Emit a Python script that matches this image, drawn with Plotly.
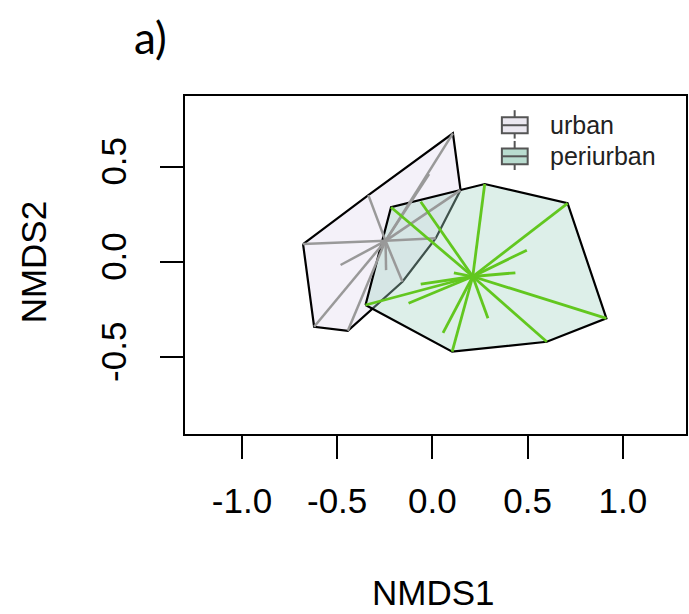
import plotly.graph_objects as go

# ---- data (NMDS site scores) ----
urban_x = [0.108, 0.148, -0.017, -0.336, -0.679, 0.018, -0.482, -0.243, -0.157, -0.621, -0.444]
urban_y = [0.674, 0.376, 0.460, 0.350, 0.093, 0.124, -0.017, -0.044, -0.105, -0.341, -0.362]

peri_x = [-0.217, 0.275, 0.710, 0.914, 0.601, 0.104, -0.351, -0.061, 0.496, 0.436, 0.113, -0.061, -0.125, 0.056, 0.292]
peri_y = [0.286, 0.408, 0.307, -0.297, -0.420, -0.472, -0.227, 0.315, 0.061, -0.058, -0.058, -0.117, -0.218, -0.373, -0.297]

groups = ["urban", "periurban"]
x_ticks = [-1.0, -0.5, 0.0, 0.5, 1.0]
y_ticks = [-0.5, 0.0, 0.5]
x_tick_labels = ["-1.0", "-0.5", "0.0", "0.5", "1.0"]
y_tick_labels = ["-0.5", "0.0", "0.5"]


def convex_hull(xs, ys):
    pts = sorted(set(zip(xs, ys)))
    def cross(o, a, b):
        return (a[0] - o[0]) * (b[1] - o[1]) - (a[1] - o[1]) * (b[0] - o[0])
    lower, upper = [], []
    for p in pts:
        while len(lower) >= 2 and cross(lower[-2], lower[-1], p) <= 0:
            lower.pop()
        lower.append(p)
    for p in reversed(pts):
        while len(upper) >= 2 and cross(upper[-2], upper[-1], p) <= 0:
            upper.pop()
        upper.append(p)
    hull = lower[:-1] + upper[:-1]
    hull.append(hull[0])
    return [p[0] for p in hull], [p[1] for p in hull]


def spider(xs, ys):
    cx = sum(xs) / len(xs)
    cy = sum(ys) / len(ys)
    sx, sy = [], []
    for x, y in zip(xs, ys):
        sx += [cx, x, None]
        sy += [cy, y, None]
    return sx, sy


FONT = "Liberation Sans, Arial, Helvetica, sans-serif"

fig = go.Figure()

uhx, uhy = convex_hull(urban_x, urban_y)
phx, phy = convex_hull(peri_x, peri_y)

fig.add_trace(go.Scatter(x=uhx, y=uhy, mode="lines", fill="toself",
                         fillcolor="rgba(228,222,240,0.42)",
                         line=dict(color="black", width=2.2), showlegend=False, hoverinfo="skip"))
fig.add_trace(go.Scatter(x=phx, y=phy, mode="lines", fill="toself",
                         fillcolor="rgba(165,212,196,0.38)",
                         line=dict(color="black", width=2.2), showlegend=False, hoverinfo="skip"))

usx, usy = spider(urban_x, urban_y)
psx, psy = spider(peri_x, peri_y)
fig.add_trace(go.Scatter(x=usx, y=usy, mode="lines",
                         line=dict(color="#999999", width=2.5), showlegend=False, hoverinfo="skip"))
fig.add_trace(go.Scatter(x=psx, y=psy, mode="lines",
                         line=dict(color="#62c71f", width=2.8), showlegend=False, hoverinfo="skip"))

axis_common = dict(showline=True, mirror=True, linecolor="black", linewidth=1.6,
                   ticks="outside", ticklen=23, tickwidth=1.6, tickcolor="black",
                   showgrid=False, zeroline=False,
                   tickfont=dict(family=FONT, size=35, color="black"))

fig.update_xaxes(range=[-1.299, 1.332], tickvals=x_ticks, ticktext=x_tick_labels,
                 ticklabelstandoff=12, **axis_common)
fig.update_yaxes(range=[-0.904, 0.870], tickvals=y_ticks, ticktext=y_tick_labels,
                 tickangle=-90, ticklabelstandoff=20, **axis_common)

# axis titles and panel label
fig.add_annotation(text="NMDS1", xref="paper", yref="paper", x=0.497, y=-0.470,
                   showarrow=False, xanchor="center", yanchor="middle",
                   font=dict(family=FONT, size=35, color="black"))
fig.add_annotation(text="NMDS2", xref="paper", yref="paper", x=-0.3006, y=0.509,
                   showarrow=False, xanchor="center", yanchor="middle", textangle=-90,
                   font=dict(family=FONT, size=35, color="black"))
fig.add_annotation(text="a)", xref="paper", yref="paper", x=-0.0685, y=1.1746,
                   showarrow=False, xanchor="center", yanchor="middle",
                   font=dict(family="Lato, Open Sans, sans-serif", size=44, color="black"))

# legend (boxplot-style keys as in the R figure)
legend_fill = ["#ebe8f0", "#b9dccf"]
rows = [  # (rect y0, rect y1, mid, whisker top, whisker bottom, text y)
    (0.890, 0.937, 0.9135, 0.958, 0.874, 0.914),
    (0.798, 0.845, 0.8216, 0.867, 0.781, 0.8225),
]
for g, col, r in zip(groups, legend_fill, rows):
    y0, y1, ym, wt, wb, ty = r
    fig.add_shape(type="rect", xref="paper", yref="paper", x0=0.6325, x1=0.684, y0=y0, y1=y1,
                  fillcolor=col, line=dict(color="#555555", width=2))
    fig.add_shape(type="line", xref="paper", yref="paper", x0=0.6325, x1=0.684, y0=ym, y1=ym,
                  line=dict(color="#555555", width=2))
    fig.add_shape(type="line", xref="paper", yref="paper", x0=0.658, x1=0.658, y0=y1, y1=wt,
                  line=dict(color="#555555", width=2))
    fig.add_shape(type="line", xref="paper", yref="paper", x0=0.658, x1=0.658, y0=y0, y1=wb,
                  line=dict(color="#555555", width=2))
    fig.add_annotation(text=g, xref="paper", yref="paper", x=0.725, y=ty, showarrow=False,
                       xanchor="left", yanchor="middle",
                       font=dict(family=FONT, size=25, color="#222222"))

fig.update_layout(width=689, height=614, plot_bgcolor="white", paper_bgcolor="white",
                  margin=dict(l=185, r=1, t=96, b=180), showlegend=False)

fig.write_html("out.html", config={"displayModeBar": False})

# remove the browser's default page margin so the figure fills the window exactly
with open("out.html", "r", encoding="utf-8") as f:
    html = f.read()
html = html.replace("<head>", "<head><style>html,body{margin:0;padding:0;overflow:hidden;}</style>", 1)
with open("out.html", "w", encoding="utf-8") as f:
    f.write(html)
